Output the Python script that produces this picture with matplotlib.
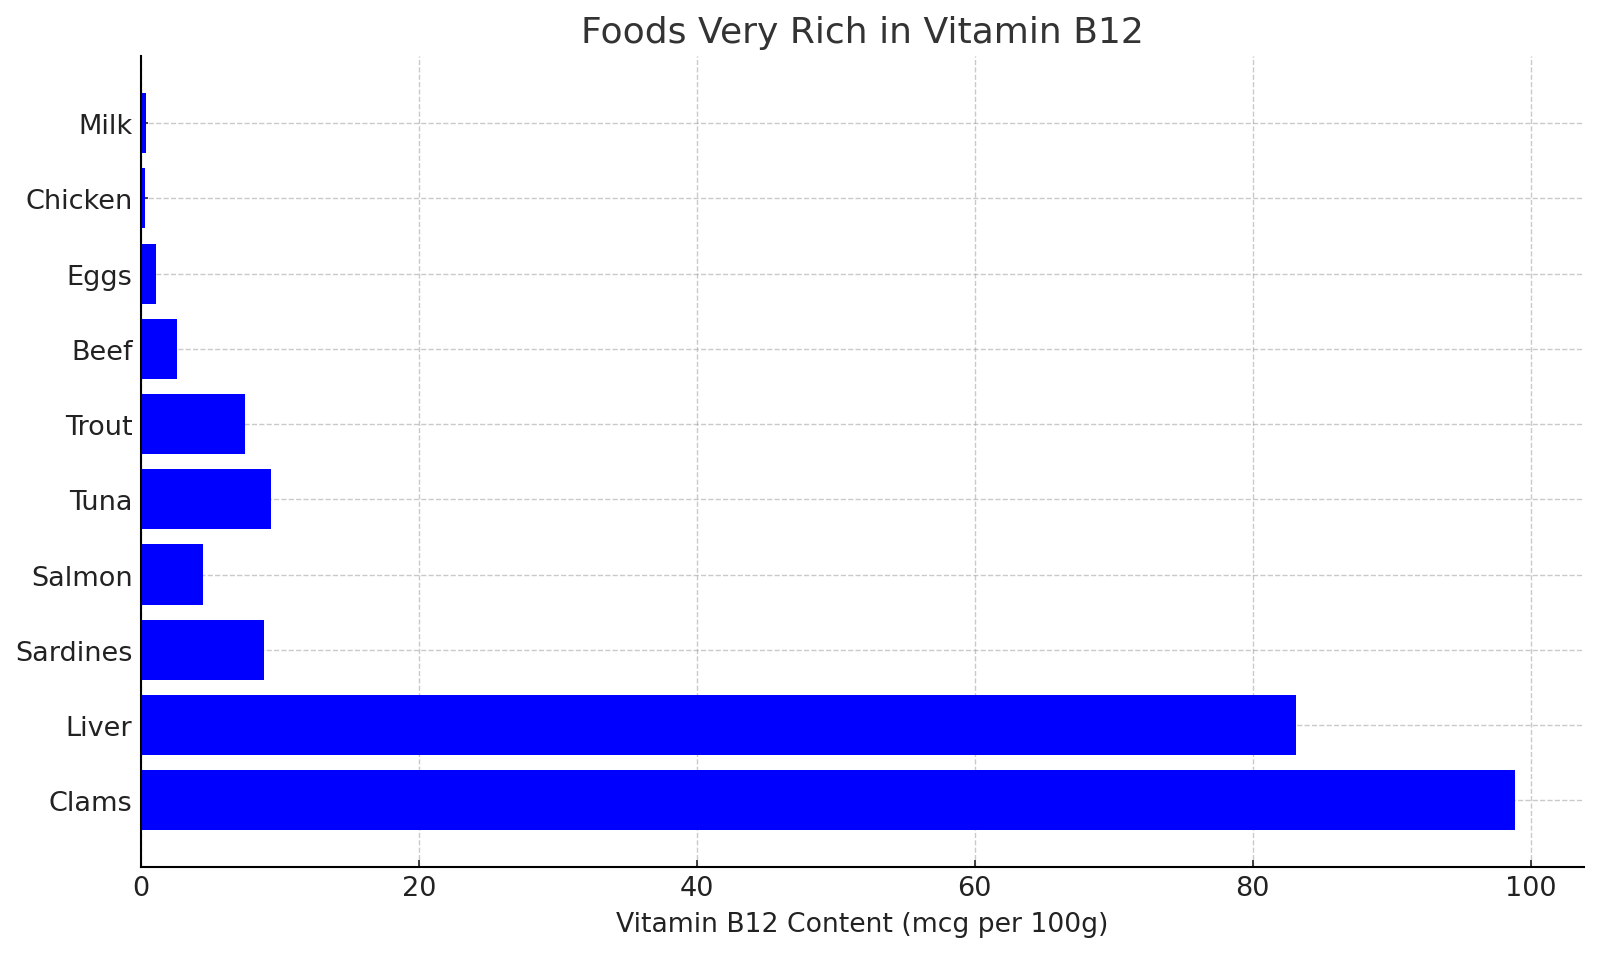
import numpy as np
import matplotlib
matplotlib.use('Agg')
import matplotlib.pyplot as plt

foods = ["Clams", "Liver", "Sardines", "Salmon", "Tuna", "Trout", "Beef", "Eggs", "Chicken", "Milk"]
b12 = [98.9, 83.1, 8.9, 4.5, 9.4, 7.5, 2.6, 1.1, 0.3, 0.4]

fig, ax = plt.subplots(figsize=(16, 9.54), dpi=100)
fig.subplots_adjust(left=0.088, right=0.99, top=0.94, bottom=0.09)

ax.barh(foods, b12, color='blue', zorder=2)
# grid drawn on top of the bars, semi transparent
ax.grid(True, linestyle='--', color='#a0a0a0', alpha=0.55, linewidth=1)
for g in ax.get_xgridlines() + ax.get_ygridlines():
    g.set_zorder(3)

ax.spines['top'].set_visible(False)
ax.spines['right'].set_visible(False)
for s in ['left', 'bottom']:
    ax.spines[s].set_linewidth(1.5)
    ax.spines[s].set_zorder(4)
ax.tick_params(labelsize=19.5, width=1.2, length=5, direction='in', pad=6, colors='#222222')

ax.set_xlabel("Vitamin B12 Content (mcg per 100g)", fontsize=19.2, color='#222222', labelpad=7)
ax.set_title("Foods Very Rich in Vitamin B12", fontsize=26, color='#333333', pad=10)

fig.savefig("out.png", dpi=100)
